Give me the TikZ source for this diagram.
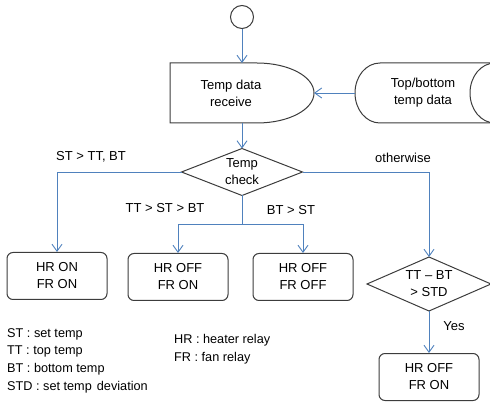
\documentclass[tikz,border=0pt]{standalone}
\usepackage{fontspec}
\setmainfont{Liberation Sans}
\usetikzlibrary{arrows.meta,shapes.geometric}

\definecolor{flowblue}{RGB}{79,129,189}
\definecolor{outline}{RGB}{60,60,60}

\begin{document}
\begin{tikzpicture}[x=1pt,y=-1pt,
    font=\fontsize{13}{17}\selectfont,
    box/.style={draw=outline, line width=1pt, rounded corners=6pt, minimum width=100pt, minimum height=47pt, align=center, inner sep=0pt},
    decision/.style={draw=outline, line width=1pt, diamond, inner sep=0pt, outer sep=0pt},
    flow/.style={draw=flowblue, line width=0.9pt, -{Straight Barb[length=7pt,width=10pt]}},
    cond/.style={inner sep=1pt}
  ]
  \useasboundingbox (0,0) rectangle (490,403);
  \clip (0,0) rectangle (490,403);

  % start
  \node[circle, draw=outline, line width=1pt, minimum size=23pt, inner sep=0pt] (start) at (242,17) {};

  % receive block (flat left, round right)
  \draw[outline, line width=1pt] (170,63) -- (257,63)
    .. controls (288.5,63) and (314,76.4) .. (314,93)
    .. controls (314,109.6) and (288.5,123) .. (257,123)
    -- (170,123) -- cycle;
  \node[align=center] (recv) at (231,93) {Temp data\\receive};
  \coordinate (recvN) at (242,63);
  \coordinate (recvS) at (242,123);
  \coordinate (recvE) at (314,93);

  % stored data
  \draw[outline, line width=1pt] (380,63) -- (495,63)
    .. controls (509,63) and (520,76.4) .. (520,93)
    .. controls (520,109.6) and (509,123) .. (495,123)
    -- (380,123)
    .. controls (366,123) and (355,109.6) .. (355,93)
    .. controls (355,76.4) and (366,63) .. (380,63) -- cycle;
  \draw[outline, line width=1pt] (495,63)
    .. controls (481,63) and (470,76.4) .. (470,93)
    .. controls (470,109.6) and (481,123) .. (495,123);
  \node[align=center] (stor) at (423,93) {Top/bottom\\temp data};
  \coordinate (storW) at (355,93);

  % checks
  \node[decision, minimum width=121pt, minimum height=47pt] (chk) at (242,172) {};
  \node[align=center] (chktxt) at (chk.center) {Temp\\check};
  \node[decision, minimum width=124pt, minimum height=54pt] (dev) at (429,284) {};
  \node[align=center] (devtxt) at (dev.center) {TT – BT\\> STD};

  % relay states
  \node[box] (b1) at (57,276) {HR ON\\FR ON};
  \node[box] (b2) at (178,277) {HR OFF\\FR ON};
  \node[box] (b3) at (303,277) {HR OFF\\FR OFF};
  \node[box] (b4) at (429,377) {HR OFF\\FR ON};

  % connectors
  \coordinate (split) at (242,224);
  \draw[flow] (start) -- (recvN);
  \draw[flow] (storW) -- (recvE);
  \draw[flow] (recvS) -- (chk.north);
  \draw[flow] (chk.west) -| (b1.north);
  \draw[flow] (chk.east) -| (dev.north);
  \draw[draw=flowblue, line width=0.9pt] (chk.south) -- (split);
  \draw[flow] (split) -| (b2.north);
  \draw[flow] (split) -| (b3.north);
  \draw[flow] (dev.south) -- (b4.north);

  % conditions
  \node[cond] (c1) at (91,157) {ST > TT, BT};
  \node[cond] (c2) at (165,208) {TT > ST > BT};
  \node[cond] (c3) at (291,210) {BT > ST};
  \node[cond] (c4) at (403,158) {otherwise};
  \node[cond] (c5) at (454,326) {Yes};

  % legend
  \node[anchor=west, align=left, inner sep=0pt, font=\fontsize{12.7}{17.7}\selectfont] (abbr) at (7,360.5)
    {ST : set temp\\TT : top temp\\BT : bottom temp\\STD : set temp\hspace{1.5pt} deviation};
  \node[anchor=west, align=left, inner sep=0pt, font=\fontsize{12.7}{17.7}\selectfont] (relays) at (174,349)
    {HR : heater relay\\FR : fan relay};
\end{tikzpicture}
\end{document}
